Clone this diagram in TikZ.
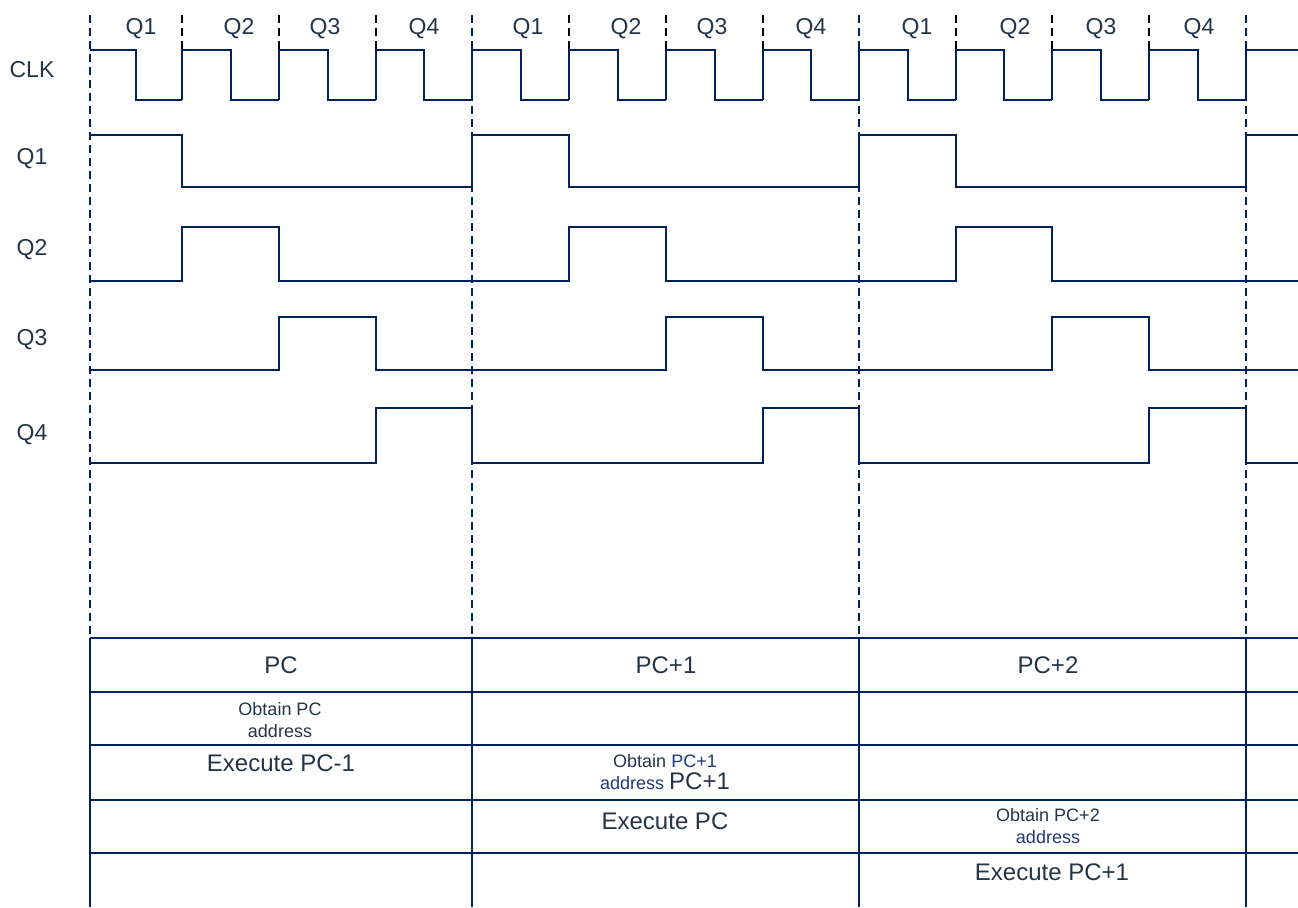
\documentclass[tikz,border=0pt]{standalone}
\usepackage{fontspec}
\setmainfont{Liberation Sans}
\definecolor{sigblue}{RGB}{0,32,96}
\definecolor{txtdark}{RGB}{36,52,71}
\definecolor{txtblue}{RGB}{31,56,120}
\begin{document}
\begin{tikzpicture}[
        x=0.5pt, y=-0.5pt,
        sig/.style={line width=1pt, draw=sigblue},
        grid/.style={line width=1pt, draw=sigblue},
        period/.style={line width=0.9pt, draw=sigblue, dash pattern=on 4pt off 2.5pt},
        quarter/.style={line width=0.8pt, draw=black, dash pattern=on 4pt off 2.5pt},
        lbl/.style={text=txtdark, font=\fontsize{11.5}{13}\selectfont, inner sep=0pt},
        big/.style={text=txtdark, font=\fontsize{12}{14}\selectfont, inner sep=0pt, align=center},
        small/.style={text=txtdark, font=\fontsize{9}{11}\selectfont, inner sep=0pt, align=center}
    ]
        \useasboundingbox (0,0) rectangle (1298,907);

        % signal names
        \node (lclk) [lbl] at (32,70) {CLK};
        \node (lq1) [lbl] at (32,159) {Q1};
        \node (lq2) [lbl] at (32,250) {Q2};
        \node (lq3) [lbl] at (32,340) {Q3};
        \node (lq4) [lbl] at (32,435) {Q4};

        % quarter names on top
        \foreach \x/\t [count=\i] in {141/Q1, 239/Q2, 325/Q3, 424/Q4, 528/Q1, 626/Q2, 712/Q3, 811/Q4, 917/Q1, 1015/Q2, 1101/Q3, 1199/Q4}
            \node (top\i) [lbl] at (\x,29) {\t};

        % period and quarter markers
        \foreach \x in {90,472,859,1246}
            \draw[period] (\x,15) -- (\x,638);
        \foreach \x in {182,279,376,569,666,763,956,1052,1149}
            \draw[quarter] (\x,15) -- (\x,50);

        % CLK
        \draw[sig] (90,50) -- (136,50) -- (136,100) -- (182,100);
        \foreach \s/\e in {182/279, 279/376, 376/472, 472/569, 569/666, 666/763, 763/859, 859/956, 956/1052, 1052/1149, 1149/1246}
            \draw[sig] (\s,100) -- (\s,50) -- ({(\s+\e)/2},50) -- ({(\s+\e)/2},100) -- (\e,100);
        \draw[sig] (1246,100) -- (1246,50) -- (1298,50);

        % Q1 .. Q4
        \draw[sig] (90,135) -- (182,135) -- (182,187) -- (472,187) -- (472,135) -- (569,135) -- (569,187) -- (859,187)
            -- (859,135) -- (956,135) -- (956,187) -- (1246,187) -- (1246,135) -- (1298,135);
        \draw[sig] (90,281) -- (182,281) -- (182,227) -- (279,227) -- (279,281) -- (569,281) -- (569,227) -- (666,227)
            -- (666,281) -- (956,281) -- (956,227) -- (1052,227) -- (1052,281) -- (1298,281);
        \draw[sig] (90,370) -- (279,370) -- (279,317) -- (376,317) -- (376,370) -- (666,370) -- (666,317) -- (763,317)
            -- (763,370) -- (1052,370) -- (1052,317) -- (1149,317) -- (1149,370) -- (1298,370);
        \draw[sig] (90,463) -- (376,463) -- (376,408) -- (472,408) -- (472,463) -- (763,463) -- (763,408) -- (859,408)
            -- (859,463) -- (1149,463) -- (1149,408) -- (1246,408) -- (1246,463) -- (1298,463);

        % pipeline table
        \foreach \y in {638,692,745,800,853}
            \draw[grid] (90,\y) -- (1298,\y);
        \foreach \x in {90,472,859,1246}
            \draw[grid] (\x,638) -- (\x,907);

        \node (pc) [big] at (281,665) {PC};
        \node (pc1) [big] at (666,665) {PC+1};
        \node (pc2) [big] at (1048,665) {PC+2};

        \node (fetch0) [small] at (280,720) {Obtain PC\\address};
        \node (exec0) [big] at (281,763) {Execute PC-1};

        \node (fetch1) [small] at (665,772) {Obtain {\color{txtblue}PC+1}\\{\color{txtblue}address} {\fontsize{12}{14}\selectfont PC+1}};
        \node (exec1) [big] at (665,821) {Execute PC};

        \node (fetch2) [small] at (1048,826) {Obtain PC+2\\{\color{txtblue}address}};
        \node (exec2) [big] at (1052,872) {Execute PC+1};
    \end{tikzpicture}
\end{document}
